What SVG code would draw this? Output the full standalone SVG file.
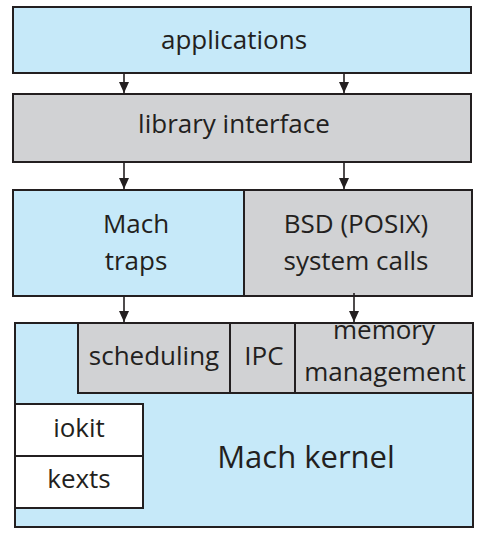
<svg xmlns="http://www.w3.org/2000/svg" width="483" height="536" viewBox="0 0 483 536">
<defs>
<style>
.b{fill:#c6e9f9;stroke:#231f20;stroke-width:2}
.g{fill:#d1d2d4;stroke:#231f20;stroke-width:2}
.w{fill:#ffffff;stroke:#231f20;stroke-width:2}
text{font-family:"Open Sans","Liberation Sans",sans-serif;font-size:26px;fill:#231f20;text-anchor:middle}
.c{stroke:#231f20;stroke-width:1.6;fill:none;marker-end:url(#ah)}
</style>
<marker id="ah" viewBox="0 0 10 10" refX="10" refY="5" markerWidth="11" markerHeight="10" markerUnits="userSpaceOnUse" orient="auto" preserveAspectRatio="none">
<path d="M0,0 L10,5 L0,10 z" fill="#231f20"/>
</marker>
</defs>
<rect width="483" height="536" fill="#ffffff"/>
<g id="applications"><rect class="b" x="13" y="7" width="458" height="66"/><text x="234" y="49">applications</text></g>
<g id="library"><rect class="g" x="13" y="94" width="458" height="68"/><text x="234" y="133">library interface</text></g>
<g id="machtraps"><rect class="b" x="13" y="190" width="231" height="106"/><text x="136" y="233">Mach</text><text x="136" y="270">traps</text></g>
<g id="bsd"><rect class="g" x="244" y="190" width="228" height="106"/><text x="356" y="233">BSD (POSIX)</text><text x="356" y="270">system calls</text></g>
<g id="kernel"><rect class="b" x="15" y="323" width="458" height="204"/><text x="306" y="468" style="font-size:31px">Mach kernel</text></g>
<g id="scheduling"><rect class="g" x="78" y="323" width="152" height="70"/><text x="154" y="365">scheduling</text></g>
<g id="ipc"><rect class="g" x="230" y="323" width="65" height="70"/><text x="264" y="365">IPC</text></g>
<g id="memory"><rect class="g" x="295" y="323" width="178" height="70"/><text x="384" y="339">memory</text><text x="385" y="381">management</text></g>
<g id="iokit"><rect class="w" x="15" y="404" width="128" height="52"/><text x="79" y="437">iokit</text></g>
<g id="kexts"><rect class="w" x="15" y="456" width="128" height="52"/><text x="79" y="488">kexts</text></g>
<g id="connectors">
<line class="c" x1="124" y1="73" x2="124" y2="93"/>
<line class="c" x1="344" y1="73" x2="344" y2="93"/>
<line class="c" x1="124" y1="162" x2="124" y2="189"/>
<line class="c" x1="344" y1="162" x2="344" y2="189"/>
<line class="c" x1="124" y1="296" x2="124" y2="322"/>
<line class="c" x1="354" y1="293" x2="354" y2="322"/>
</g>
</svg>
